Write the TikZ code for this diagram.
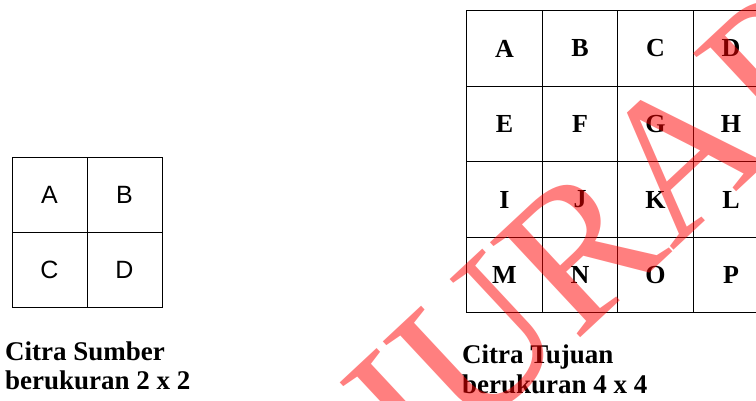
\documentclass[tikz,border=0pt]{standalone}
\usepackage{fontspec}
\setmainfont{Liberation Serif}
\newfontfamily\cellsans{Liberation Sans}
\tikzset{
  cellL/.style={draw=black, line width=0.8pt, minimum size=75pt, inner sep=0pt, font=\cellsans\fontsize{25}{25}\selectfont},
  cellR/.style={draw=black, line width=0.8pt, minimum size=75.5pt, inner sep=0pt, font=\bfseries\fontsize{26}{26}\selectfont},
  caption/.style={anchor=base west, inner sep=0pt, font=\bfseries\fontsize{27}{27}\selectfont},
  wmark/.style={text=red, text opacity=0.5, inner sep=0pt, font=\fontsize{200}{200}\selectfont, rotate=43}
}
\begin{document}
\begin{tikzpicture}[x=1pt,y=-1pt]
\useasboundingbox (0,0) rectangle (756,400);
% source 2x2
\node[cellL] (sA) at (49.5,194.5) {A};
\node[cellL] (sB) at (124.5,194.5) {B};
\node[cellL] (sC) at (49.5,269.5) {C};
\node[cellL] (sD) at (124.5,269.5) {D};
\node[caption] (cap1) at (5,360) {Citra Sumber};
\node[caption] (cap2) at (5,389) {berukuran 2 x 2};
% target 4x4
\foreach \t [count=\i from 0] in {A,B,C,D,E,F,G,H,I,J,K,L,M,N,O,P}{
  \pgfmathtruncatemacro{\c}{mod(\i,4)}
  \pgfmathtruncatemacro{\r}{div(\i,4)}
  \node[cellR] (t\t) at (504.5+75.5*\c, 48.5+75.5*\r) {\t};
}
\node[caption] (cap3) at (462,363) {Citra Tujuan};
\node[caption] (cap4) at (462,393) {berukuran 4 x 4};
% watermark
\node[wmark] (wm) at (592,238) {JURAP};
\end{tikzpicture}
\end{document}
